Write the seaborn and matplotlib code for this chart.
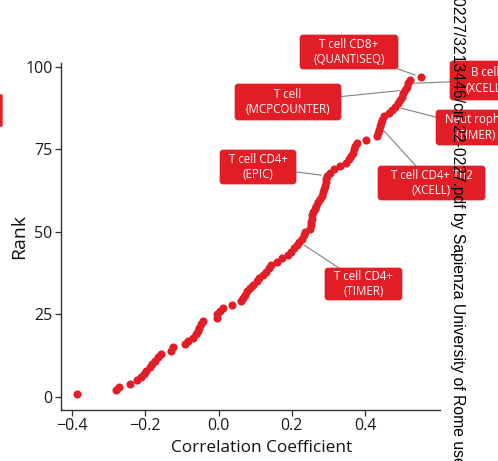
import matplotlib
matplotlib.use("Agg")
import matplotlib.pyplot as plt
import seaborn as sns
import pandas as pd
from matplotlib.patches import FancyBboxPatch

# ---------------- data ----------------
corr = [-0.385, -0.280, -0.270, -0.240, -0.222, -0.212, -0.204, -0.198, -0.188, -0.181,
        -0.172, -0.165, -0.156, -0.130, -0.124, -0.090, -0.083, -0.070, -0.062, -0.056,
        -0.052, -0.047, -0.043, -0.005, -0.003, 0.004, 0.012, 0.036, 0.062, 0.066,
        0.072, 0.078, 0.086, 0.093, 0.104, 0.111, 0.120, 0.130, 0.137, 0.143,
        0.160, 0.172, 0.190, 0.198, 0.207, 0.214, 0.220, 0.228, 0.232, 0.236,
        0.250, 0.252, 0.253, 0.254, 0.256, 0.258, 0.262, 0.266, 0.271, 0.276,
        0.281, 0.285, 0.288, 0.290, 0.292, 0.293, 0.295, 0.304, 0.314, 0.332,
        0.348, 0.356, 0.361, 0.366, 0.370, 0.373, 0.377, 0.401, 0.431, 0.434,
        0.437, 0.440, 0.443, 0.446, 0.450, 0.466, 0.473, 0.482, 0.490, 0.495,
        0.500, 0.504, 0.508, 0.513, 0.518, 0.522, 0.551]
rank = list(range(1, len(corr) + 1))

label_text = ["T cell CD8+\n(QUANTISEQ)", "B cell\n(XCELL)", "T cell\n(MCPCOUNTER)",
              "Neut rophil\n(TIMER)", "T cell CD4+\n(EPIC)", "T cell CD4+ Th2\n(XCELL)",
              "T cell CD4+\n(TIMER)"]
label_rank = [97, 95, 93, 88, 67, 82, 47]

x_ticks = [-0.4, -0.2, 0.0, 0.2, 0.4]
y_ticks = [0, 25, 50, 75, 100]

# ---------------- styling / layout ----------------
RED = "#E31D25"
W, H = 498, 461
# label boxes in pixel coords from top-left: x0, y0, x1, y1
label_boxes = [(300, 35, 398, 69), (450, 61, 520, 100), (235, 84, 341, 120),
               (436, 110, 515, 145), (220, 150, 296, 184), (378, 166, 485, 200),
               (325, 268, 402, 300)]

sns.set_theme(style="ticks")
plt.rcParams['font.family'] = ['Open Sans', 'DejaVu Sans']

fig = plt.figure(figsize=(W / 100, H / 100), dpi=100)
ax = fig.add_axes([61 / W, 1 - 410 / H, (440 - 61) / W, (410 - 63) / H])

df = pd.DataFrame({"Correlation Coefficient": corr, "Rank": rank})
sns.scatterplot(data=df, x="Correlation Coefficient", y="Rank", color=RED,
                s=34, linewidth=0, ax=ax, zorder=3)

ax.set_xlim(-0.4295, 0.604)
ax.set_ylim(-3.94, 101.2)
ax.set_xticks(x_ticks)
ax.set_xticklabels([f"{v:.1f}".replace("-", "\u2212") for v in x_ticks])
ax.set_yticks(y_ticks)
ax.set_yticklabels([str(v) for v in y_ticks])
for s in ["top", "right"]:
    ax.spines[s].set_visible(False)
for s in ["left", "bottom"]:
    ax.spines[s].set_color("#333333")
    ax.spines[s].set_linewidth(1.0)
ax.tick_params(axis="both", colors="#333333", labelsize=11.5, length=4, width=0.9,
               labelcolor="#1a1a1a", pad=2)
ax.set_xlabel("Correlation Coefficient", fontsize=12.4, color="#111111")
ax.xaxis.set_label_coords((262 - 61) / (440 - 61), -30 / (410 - 63))
ax.set_ylabel("Rank", fontsize=14, color="#111111")
ax.yaxis.set_label_coords((28 - 61) / (440 - 61), 0.5)

# labels
for txt, r, (x0, y0, x1, y1) in zip(label_text, label_rank, label_boxes):
    px0, px1 = x0, x1
    py0, py1 = H - y1, H - y0
    box = FancyBboxPatch((px0 + 3, py0 + 3), (px1 - px0) - 6, (py1 - py0) - 6,
                         boxstyle="round,pad=3", transform=None,
                         facecolor=RED, edgecolor=RED, lw=0.5, zorder=5)
    fig.patches.append(box)
    cx, cy = (px0 + px1) / 2, (py0 + py1) / 2
    ax.annotate("", xy=(corr[r - 1], r), xycoords="data",
                xytext=(cx, cy), textcoords="figure pixels",
                arrowprops=dict(arrowstyle="-", color="#808080", lw=0.8,
                                patchA=box, shrinkA=0, shrinkB=4),
                annotation_clip=False, zorder=2)
    fig.text(cx / W, cy / H, txt, ha="center", va="center", color="white",
             fontsize=8.3, linespacing=1.25, zorder=6)

# clipped box at left edge
fig.patches.append(FancyBboxPatch((-60, H - 126), 62, 31, boxstyle="round,pad=0",
                                  transform=None, facecolor=RED, edgecolor=RED, zorder=5))

# vertical download watermark
fig.text(457 / W, 1 + 3 / H,
         "0227/3213446/cir-22-0227.pdf by Sapienza University of Rome user on 01 January 2023",
         rotation=270, ha="center", va="top", fontsize=11.3,
         family=["Liberation Sans", "DejaVu Sans"], color="black", zorder=10)

fig.savefig("out.png", dpi=100)
